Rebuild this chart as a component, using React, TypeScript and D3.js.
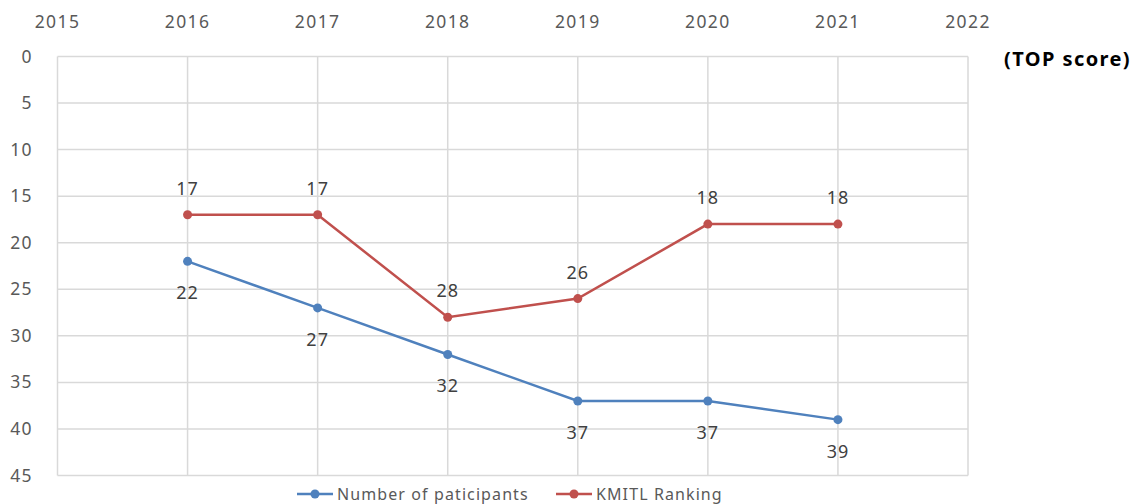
import React from 'react';
import * as d3 from 'd3';

const years = [2016, 2017, 2018, 2019, 2020, 2021];
const participants = [22, 27, 32, 37, 37, 39];
const kmitlRanking = [17, 17, 28, 26, 18, 18];
const xTicks = [2015, 2016, 2017, 2018, 2019, 2020, 2021, 2022];
const yTicks = [0, 5, 10, 15, 20, 25, 30, 35, 40, 45];

const series = [
  { name: 'Number of paticipants', values: participants, color: '#4f81bd', labelDy: 38 },
  { name: 'KMITL Ranking', values: kmitlRanking, color: '#c0504d', labelDy: -20 },
];

const W = 1134;
const H = 504;
const font = '"Noto Sans", sans-serif';
const textColor = '#595959';

export default function App() {
  const x = d3.scaleLinear().domain([2015, 2022]).range([57.5, 968]);
  const y = d3.scaleLinear().domain([0, 45]).range([56.5, 475.5]);

  const line = d3
    .line<[number, number]>()
    .x(d => x(d[0]))
    .y(d => y(d[1]));

  return (
    <svg
      width={W}
      height={H}
      style={{ position: 'absolute', left: 0, top: 0, background: '#fff' }}
      fontFamily={font}
    >
      {/* grid */}
      {xTicks.map(t => (
        <line key={'gx' + t} x1={x(t)} x2={x(t)} y1={y(0)} y2={y(45)} stroke="#d9d9d9" strokeWidth={1.5} />
      ))}
      {yTicks.map(t => (
        <line key={'gy' + t} x1={x(2015)} x2={x(2022)} y1={y(t)} y2={y(t)} stroke="#d9d9d9" strokeWidth={1.5} />
      ))}

      {/* axis labels */}
      {xTicks.map(t => (
        <text key={'tx' + t} x={x(t)} y={28} textAnchor="middle" fontSize={17.5} letterSpacing={1.4} fill={textColor}>
          {t}
        </text>
      ))}
      {yTicks.map(t => (
        <text key={'ty' + t} x={33} y={y(t) + 6} textAnchor="end" fontSize={17.5} letterSpacing={1.4} fill={textColor}>
          {t}
        </text>
      ))}
      <text x={1131} y={66} textAnchor="end" fontSize={20} fontWeight="bold" letterSpacing={1.4} fill="#000">
        (TOP score)
      </text>

      {/* series */}
      {series.map(s => {
        const pts = years.map((yr, i) => [yr, s.values[i]] as [number, number]);
        return (
          <g key={s.name}>
            <path d={line(pts) || ''} fill="none" stroke={s.color} strokeWidth={2.5} />
            {pts.map(p => (
              <circle key={p[0]} cx={x(p[0])} cy={y(p[1])} r={4.5} fill={s.color} />
            ))}
            {pts.map(p => (
              <text
                key={'l' + p[0]}
                x={x(p[0])}
                y={y(p[1]) + s.labelDy}
                textAnchor="middle"
                fontSize={18}
                letterSpacing={1}
                fill="#404040"
              >
                {p[1]}
              </text>
            ))}
          </g>
        );
      })}

      {/* legend */}
      <g>
        <line x1={297} x2={333} y1={494} y2={494} stroke={series[0].color} strokeWidth={2.5} />
        <circle cx={315} cy={494} r={4.5} fill={series[0].color} />
        <text x={337} y={500} fontSize={16} fill={textColor} letterSpacing={1.1}>
          {series[0].name}
        </text>
        <line x1={556} x2={592} y1={494} y2={494} stroke={series[1].color} strokeWidth={2.5} />
        <circle cx={574} cy={494} r={4.5} fill={series[1].color} />
        <text x={596} y={500} fontSize={16} fill={textColor} letterSpacing={1.1}>
          {series[1].name}
        </text>
      </g>
    </svg>
  );
}
